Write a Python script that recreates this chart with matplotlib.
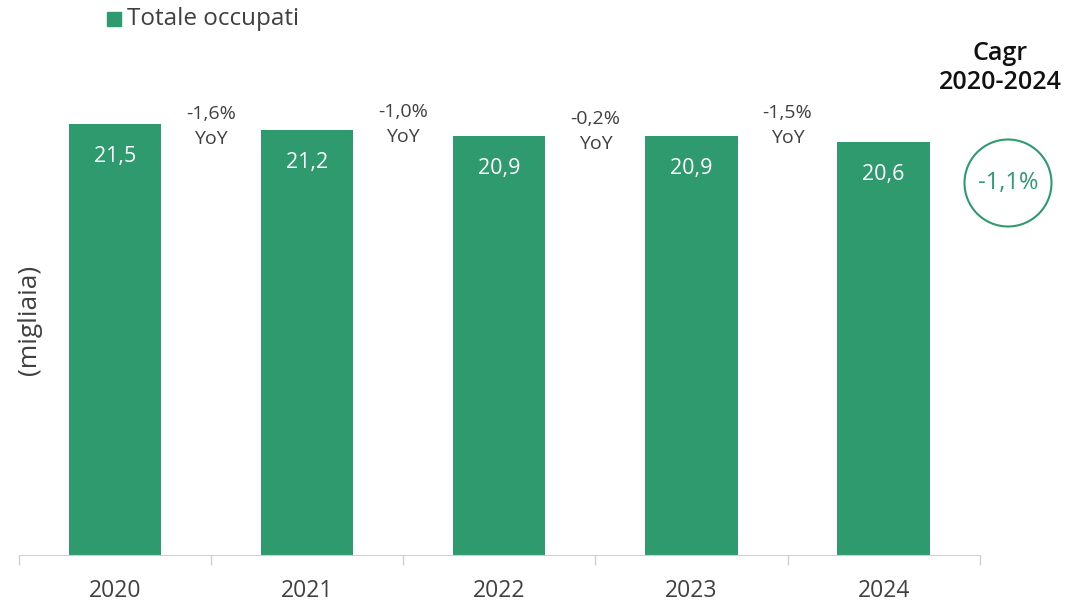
import matplotlib.pyplot as plt
from matplotlib.patches import Ellipse, Rectangle

plt.rcParams['font.family'] = ['Open Sans', 'DejaVu Sans']

anni = ['2020', '2021', '2022', '2023', '2024']
occupati = [21.5, 21.2, 20.9, 20.9, 20.6]
yoy = ['-1,6%', '-1,0%', '-0,2%', '-1,5%']
cagr = '-1,1%'

verde = '#2E9A6E'
grigio = '#404040'

fig = plt.figure(figsize=(10.71, 6.09), dpi=100)
ax = fig.add_axes([0.0177, 0.0887, 0.897, 0.822])

x = range(len(anni))
ax.bar(x, occupati, width=0.48, color=verde)
for i, v in enumerate(occupati):
    ax.text(i, v - 1.6, f'{v:.1f}'.replace('.', ','), ha='center', va='center',
            color='white', fontsize=15.5)

# etichette YoY tra le barre
yoy_y = [21.4, 21.5, 21.15, 21.45]
for i, t in enumerate(yoy):
    ax.text(i + 0.5, yoy_y[i], t + '\nYoY', ha='center', va='center',
            color=grigio, fontsize=14, linespacing=1.5)

ax.set_xlim(-0.5, len(anni) - 0.5)
ax.set_ylim(0, 25)
ax.set_yticks([])
ax.set_xticks([i - 0.5 for i in range(len(anni) + 1)])
ax.set_xticklabels([])
ax.set_xticks(list(x), minor=True)
ax.set_xticklabels(anni, minor=True, fontsize=16.5, color=grigio)
ax.tick_params(axis='x', which='major', length=7, color='#d0d0d0', width=1)
ax.tick_params(axis='x', which='minor', length=0, pad=17)
for s in ['top', 'right', 'left']:
    ax.spines[s].set_visible(False)
ax.spines['bottom'].set_color('#d0d0d0')

fig.text(0.028, 0.475, '(migliaia)', rotation=90, ha='center', va='center',
         fontsize=19, color=grigio)

# legenda
fig.patches.append(Rectangle((107 / 1071, 1 - 26 / 609), 14 / 1071, 14 / 609,
                             transform=fig.transFigure, color=verde))
fig.text(127 / 1071, 1 - 19 / 609, 'Totale occupati', ha='left', va='center',
         fontsize=17.5, color=grigio)

# Cagr
fig.text(1000 / 1071, 1 - 68 / 609, 'Cagr\n2020-2024', ha='center', va='center',
         fontsize=18, color='#111111', fontweight='semibold', linespacing=1.2)
fig.patches.append(Ellipse((1008 / 1071, 1 - 183 / 609), 87 / 1071, 87 / 609,
                           transform=fig.transFigure, fill=False,
                           edgecolor=verde, linewidth=1.5))
fig.text(1008 / 1071, 1 - 183 / 609, cagr, ha='center', va='center',
         fontsize=17, color=verde)

fig.savefig('out.png', dpi=100)
